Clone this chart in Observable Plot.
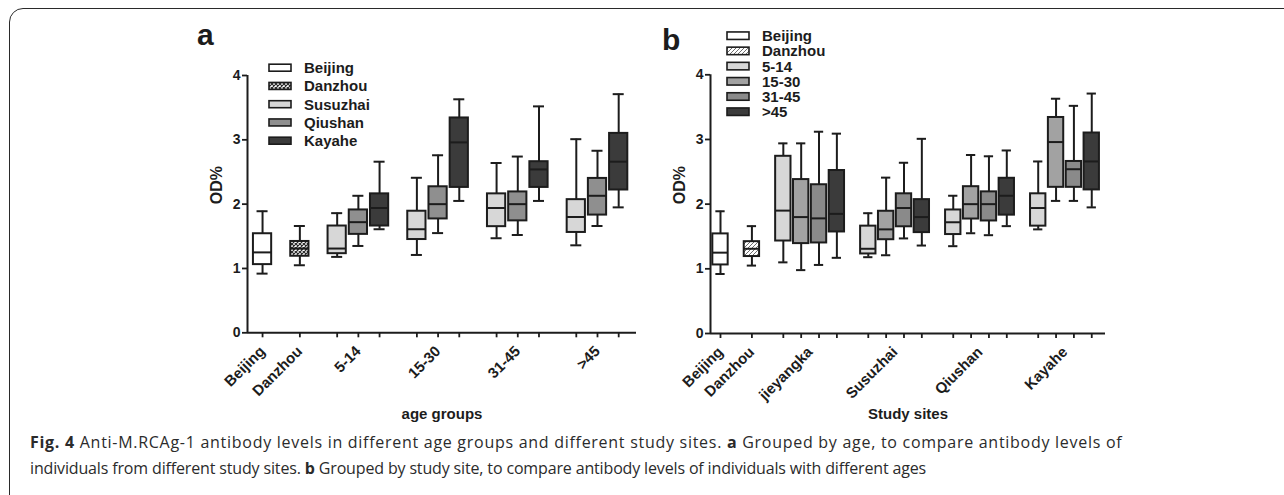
<!DOCTYPE html>
<html><head><meta charset="utf-8">
<script src="https://cdn.jsdelivr.net/npm/d3@7"></script>
<script src="https://cdn.jsdelivr.net/npm/@observablehq/plot@0.6"></script>
<style>
html,body{margin:0;padding:0;background:#fff;}
#root{position:relative;width:1284px;height:495px;overflow:hidden;background:#fff;font-family:"Liberation Sans",Arial,sans-serif;}
#frame{position:absolute;left:9px;top:8px;width:1400px;height:600px;border:1.6px solid #2a2a2a;border-top-left-radius:14px;box-sizing:border-box;}
.layer{position:absolute;left:0;top:0;}
#caption{position:absolute;left:30px;top:429px;font-family:"Open Sans",sans-serif;font-size:16px;line-height:26px;color:#2b2b2b;white-space:nowrap;}
#caption .l1{letter-spacing:0.72px;}
#caption .l2{letter-spacing:-0.15px;}
</style></head>
<body><div id="root"><div id="frame"></div><div id="caption"><span class="l1"><b>Fig. 4</b> Anti-M.RCAg-1 antibody levels in different age groups and different study sites. <b>a</b> Grouped by age, to compare antibody levels of</span><br><span class="l2">individuals from different study sites. <b>b</b> Grouped by study site, to compare antibody levels of individuals with different ages</span></div></div>
<script>
// ---------- data (min, Q1, median, Q3, max of OD%) ----------
const ages = ["5-14", "15-30", "31-45", ">45"];
const sites = ["Jieyangka", "Susuzhai", "Qiushan", "Kayahe"];
const siteLabels = ["jieyangka", "Susuzhai", "Qiushan", "Kayahe"];
const beijing = [0.92, 1.06, 1.25, 1.54, 1.89];
const danzhou = [1.05, 1.19, 1.31, 1.42, 1.66];
const jieyangka = [[1.10, 1.43, 1.90, 2.74, 2.94], [0.98, 1.39, 1.80, 2.38, 2.94], [1.06, 1.40, 1.78, 2.30, 3.12], [1.17, 1.57, 1.85, 2.52, 3.09]];
const susuzhai = [[1.18, 1.23, 1.31, 1.66, 1.86], [1.21, 1.45, 1.61, 1.89, 2.41], [1.47, 1.65, 1.94, 2.16, 2.64], [1.36, 1.56, 1.80, 2.07, 3.01]];
const qiushan = [[1.35, 1.53, 1.72, 1.91, 2.13], [1.55, 1.77, 2.00, 2.27, 2.76], [1.52, 1.74, 2.00, 2.19, 2.74], [1.66, 1.83, 2.13, 2.40, 2.83]];
const kayahe = [[1.61, 1.66, 1.94, 2.16, 2.66], [2.05, 2.26, 2.96, 3.34, 3.63], [2.05, 2.26, 2.54, 2.66, 3.52], [1.95, 2.22, 2.66, 3.10, 3.71]];
const yTicks = [0, 1, 2, 3, 4];
const legendA = ["Beijing", "Danzhou", "Susuzhai", "Qiushan", "Kayahe"];
const legendB = ["Beijing", "Danzhou", "5-14", "15-30", "31-45", ">45"];

// ---------- styles / layout ----------
const siteData = {Jieyangka: jieyangka, Susuzhai: susuzhai, Qiushan: qiushan, Kayahe: kayahe};
const fillA = {Beijing: "#ffffff", Danzhou: "url(#crossA)", Susuzhai: "#d7d7d7", Qiushan: "#8f8f8f", Kayahe: "#3b3b3b"};
const fillB = {Beijing: "#ffffff", Danzhou: "url(#hatchB)", "5-14": "#d7d7d7", "15-30": "#a2a2a2", "31-45": "#8a8a8a", ">45": "#3b3b3b"};
const INK = "#1c1c1c";
const GAP = 1.76, BOX_W = 0.86, CAP_W = 0.52;

const groupsA = [
  {label: "Beijing", items: [{series: "Beijing", stats: beijing}]},
  {label: "Danzhou", items: [{series: "Danzhou", stats: danzhou}]},
  ...ages.map((a, ai) => ({label: a, items: ["Susuzhai", "Qiushan", "Kayahe"].map(s => ({series: s, stats: siteData[s][ai]}))}))
];
const groupsB = [
  {label: "Beijing", items: [{series: "Beijing", stats: beijing}]},
  {label: "Danzhou", items: [{series: "Danzhou", stats: danzhou}]},
  ...sites.map((s, si) => ({label: siteLabels[si], items: ages.map((a, ai) => ({series: a, stats: siteData[s][ai]}))}))
];

function panel(groups, fills, domain, margins, xTitle) {
  const rows = [], ticks = [], centers = new Map();
  let p = 0;
  groups.forEach((g, gi) => {
    if (gi > 0) p += GAP;
    const ps = [];
    g.items.forEach((it, ii) => {
      if (ii > 0) p += 1;
      const [min, q1, med, q3, max] = it.stats;
      rows.push({pos: p, series: it.series, min, q1, med, q3, max, fill: fills[it.series]});
      ps.push(p); ticks.push(p);
    });
    centers.set(d3.mean(ps), g.label);
  });
  const bx1 = d => d.pos - BOX_W / 2, bx2 = d => d.pos + BOX_W / 2;
  const cx1 = d => d.pos - CAP_W / 2, cx2 = d => d.pos + CAP_W / 2;
  const line = {stroke: INK, strokeWidth: 2};
  return Plot.plot({
    width: 1284, height: 495, ...margins,
    x: {type: "linear", domain, axis: null},
    y: {domain: [0, 4], axis: null},
    color: {type: "identity"},
    style: {background: "transparent", fontFamily: "Liberation Sans, Arial, sans-serif", fontWeight: "bold", overflow: "visible", maxWidth: "none", color: INK},
    marks: [
      Plot.ruleX(rows, {x: "pos", y1: "min", y2: "q1", ...line}),
      Plot.ruleX(rows, {x: "pos", y1: "q3", y2: "max", ...line}),
      Plot.ruleY(rows, {y: "min", x1: cx1, x2: cx2, ...line}),
      Plot.ruleY(rows, {y: "max", x1: cx1, x2: cx2, ...line}),
      Plot.rect(rows, {x1: bx1, x2: bx2, y1: "q1", y2: "q3", fill: "fill", ...line}),
      Plot.ruleY(rows, {y: "med", x1: bx1, x2: bx2, ...line}),
      Plot.ruleY([0], {...line}),
      Plot.ruleX([domain[0]], {...line}),
      Plot.axisX({ticks, tickSize: 5, tickFormat: () => "", strokeWidth: 1.8, label: null}),
      Plot.axisX({ticks: [...centers.keys()], tickSize: 0, tickPadding: 16, tickRotate: -45, tickFormat: d => centers.get(d), fontSize: 15, label: null}),
      Plot.axisY({ticks: yTicks, tickSize: 5, tickPadding: 2, tickFormat: d3.format("d"), fontSize: 14, strokeWidth: 1.8, label: null}),
      Plot.text([xTitle], {text: d => d, frameAnchor: "bottom", dy: 81, lineAnchor: "middle", fontSize: 15, fontWeight: "bold"}),
      Plot.text(["OD%"], {text: d => d, frameAnchor: "left", dx: -30.5, rotate: -90, fontSize: 16, fontWeight: "bold"})
    ]
  });
}

const root = document.getElementById("root");
const svgA = panel(groupsA, fillA, [-0.71, 17.64], {marginLeft: 247, marginRight: 648, marginTop: 75, marginBottom: 162.7}, "age groups");
const svgB = panel(groupsB, fillB, [-0.56, 21.57], {marginLeft: 710, marginRight: 179, marginTop: 74.3, marginBottom: 162}, "Study sites");
for (const s of [svgA, svgB]) { s.classList.add("layer"); root.appendChild(s); }

// overlay: patterns, legends, panel letters
const ov = d3.select(root).append("svg").attr("class", "layer").attr("width", 1284).attr("height", 495)
  .style("font-family", "Liberation Sans, Arial, sans-serif");
const defs = ov.append("defs");
const pa = defs.append("pattern").attr("id", "crossA").attr("patternUnits", "userSpaceOnUse").attr("width", 4).attr("height", 4);
pa.append("rect").attr("width", 4).attr("height", 4).attr("fill", "#ffffff");
pa.append("path").attr("d", "M0,0L4,4M4,0L0,4").attr("stroke", "#2a2a2a").attr("stroke-width", 1.2);
const pb = defs.append("pattern").attr("id", "hatchB").attr("patternUnits", "userSpaceOnUse").attr("width", 4).attr("height", 4);
pb.append("rect").attr("width", 4).attr("height", 4).attr("fill", "#ffffff");
pb.append("path").attr("d", "M-1,1L1,-1M0,4L4,0M3,5L5,3").attr("stroke", "#6e6e6e").attr("stroke-width", 1);

function legend(names, fills, x, y0, step, h) {
  const g = ov.append("g");
  names.forEach((n, i) => {
    const y = y0 + i * step;
    g.append("rect").attr("x", x).attr("y", y - h / 2).attr("width", 22).attr("height", h)
      .attr("fill", fills[n]).attr("stroke", INK).attr("stroke-width", 1.6);
    g.append("text").attr("x", x + 35).attr("y", y).attr("dy", "0.36em").attr("font-size", 15)
      .attr("font-weight", "bold").attr("fill", INK).text(n);
  });
}
legend(legendA, fillA, 269, 67.7, 18.25, 7);
legend(legendB, fillB, 727, 35.7, 15.2, 7.5);
ov.append("text").attr("x", 197).attr("y", 45).attr("font-size", 30).attr("font-weight", "bold").attr("fill", INK).text("a");
ov.append("text").attr("x", 662).attr("y", 50).attr("font-size", 30).attr("font-weight", "bold").attr("fill", INK).text("b");
</script></body></html>
